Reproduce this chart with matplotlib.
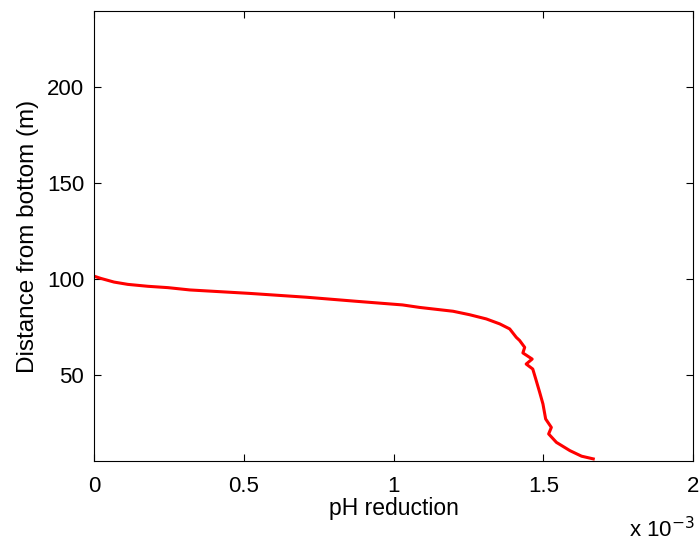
import numpy as np
import matplotlib
matplotlib.use('Agg')
import matplotlib.pyplot as plt
from matplotlib.ticker import FuncFormatter

ph_reduction = [0.0, 0.023e-3, 0.067e-3, 0.113e-3, 0.18e-3, 0.247e-3, 0.32e-3,
                0.52e-3, 0.71e-3, 0.875e-3, 1.03e-3, 1.087e-3, 1.199e-3, 1.254e-3,
                1.31e-3, 1.355e-3, 1.388e-3, 1.41e-3, 1.421e-3, 1.438e-3, 1.432e-3,
                1.463e-3, 1.443e-3, 1.465e-3, 1.475e-3, 1.488e-3, 1.499e-3, 1.508e-3,
                1.527e-3, 1.518e-3, 1.544e-3, 1.589e-3, 1.628e-3, 1.667e-3]
distance = [101.5, 100.3, 98.4, 97.2, 96.2, 95.5, 94.3,
            92.5, 90.5, 88.4, 86.5, 85.2, 83.2, 81.4,
            79.2, 76.6, 74.0, 69.6, 68.0, 64.4, 61.5,
            58.3, 55.7, 53.1, 47.9, 41.0, 34.9, 27.1,
            22.7, 19.3, 14.9, 10.6, 7.7, 6.3]

xticks = [0, 0.5e-3, 1e-3, 1.5e-3, 2e-3]
yticks = [50, 100, 150, 200]

plt.rcParams['font.family'] = ['Liberation Sans', 'DejaVu Sans']

fig = plt.figure(figsize=(7, 5.44), dpi=100)
ax = fig.add_axes([94 / 700, 1 - 461 / 544, 599 / 700, 450 / 544])

ax.plot(ph_reduction, distance, color='#ff0000', linewidth=2.2)

ax.set_xlim(0, 2e-3)
ax.set_ylim(5.2, 239.6)
ax.set_xticks(xticks)
ax.set_yticks(yticks)
ax.xaxis.set_major_formatter(FuncFormatter(lambda v, p: f'{v * 1e3:g}'))

ax.tick_params(direction='in', top=True, right=True, length=5, width=0.8,
               labelsize=16, pad=7)
ax.tick_params(axis='x', pad=11)
for s in ax.spines.values():
    s.set_linewidth(0.8)

ax.set_xlabel('pH reduction', fontsize=16.5, labelpad=0)
ax.set_ylabel('Distance from bottom (m)', fontsize=17.5, labelpad=6)
fig.text(662 / 700, 1 - 530 / 544, r'x 10$^{-3}$', fontsize=16, ha='center', va='center')

fig.savefig('out.png', dpi=100)
